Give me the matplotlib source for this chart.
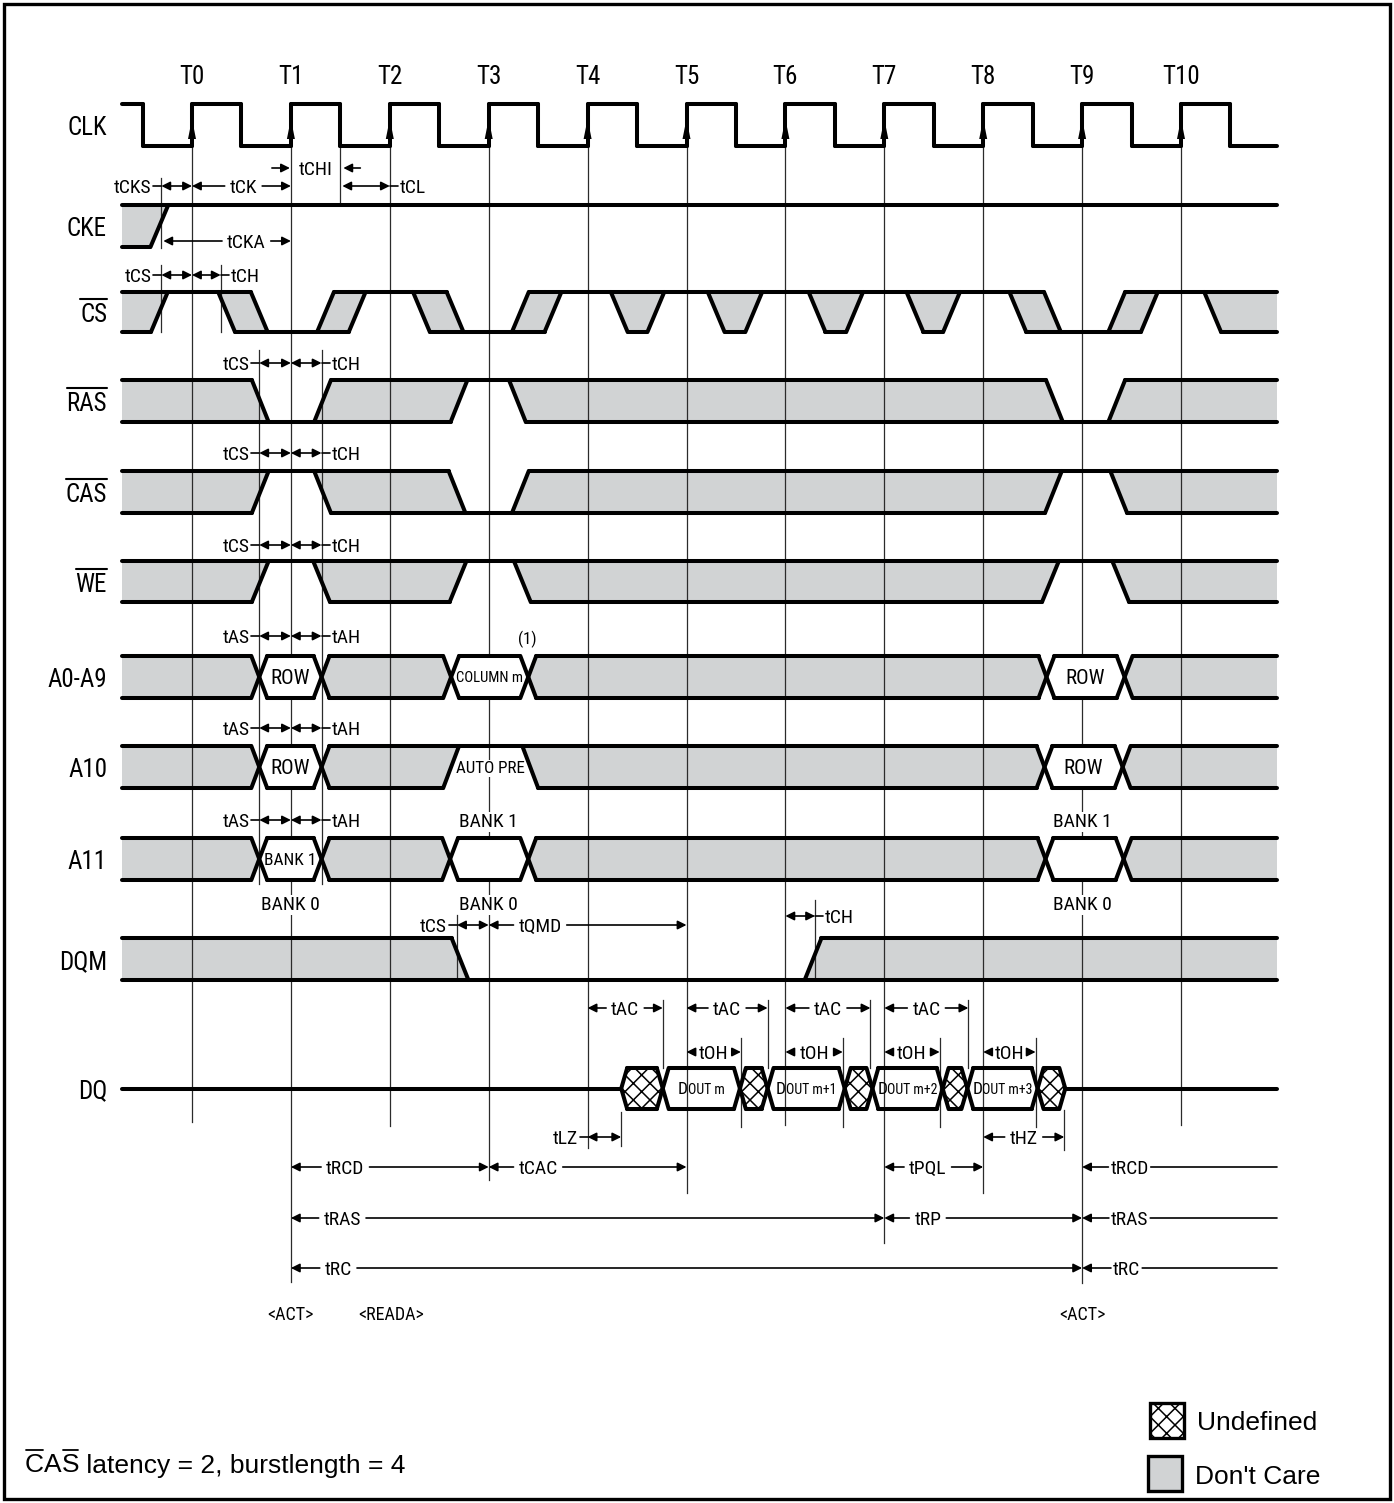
import os
import matplotlib
matplotlib.use('Agg')
import matplotlib.pyplot as plt
from matplotlib import font_manager as fm
from matplotlib.patches import Polygon, Rectangle

plt.rcParams['hatch.linewidth'] = 1.1

REGULAR = ['Liberation Sans', 'DejaVu Sans']
GRAY = '#d1d3d4'


def pick_narrow():
    # the diagram uses a condensed sans; take whatever narrow face is installed
    files = sorted(set(f.fname for f in fm.fontManager.ttflist))
    prefs = ['liberationsansnarrow-regular', 'robotocondensed-regular',
             'notosans-condensed.', 'notosans-extracondensed.',
             'notosans-semicondensed.', 'dejavusanscondensed.',
             'opensans-condensedregular', 'opensans_condensed-regular']
    for p in prefs:
        for f in files:
            if p in os.path.basename(f).lower():
                return f
    bad = ('bold', 'italic', 'light', 'thin', 'black', 'medium', 'oblique', 'mono')
    for f in files:
        b = os.path.basename(f).lower()
        if ('condensed' in b or 'narrow' in b) and not any(k in b for k in bad):
            return f
    return None


NARROW_FILE = pick_narrow()
NSCALE = 1.0 if NARROW_FILE else 0.8

# ---------------------------------------------------------------- data
# times are in clock periods after the T0 rising edge
T_LABELS = ['T0', 'T1', 'T2', 'T3', 'T4', 'T5', 'T6', 'T7', 'T8', 'T9', 'T10']
T_POS = [0, 1, 2, 3, 4, 5, 6, 7, 8, 9, 10]

# states: H high, L low, X don't care, V valid, U undefined, Z high-z
CLK_STATES = ['H', 'L'] * 12
CLK_EDGES = [-0.5, 0, 0.5, 1, 1.5, 2, 2.5, 3, 3.5, 4, 4.5, 5, 5.5,
             6, 6.5, 7, 7.5, 8, 8.5, 9, 9.5, 10, 10.5]

CKE_STATES = ['X', 'H']
CKE_EDGES = [-0.33]

CS_STATES = ['X', 'H', 'X', 'L', 'X', 'H', 'X', 'L', 'X', 'H', 'X', 'H',
             'X', 'H', 'X', 'H', 'X', 'H', 'X', 'L', 'X', 'H', 'X']
CS_EDGES = [-0.33, 0.35, 0.68, 1.35, 1.67, 2.32, 2.66, 3.32, 3.65, 4.32,
            4.69, 5.30, 5.68, 6.32, 6.70, 7.31, 7.68, 8.35, 8.70, 9.35,
            9.68, 10.32]

RAS_STATES = ['X', 'L', 'X', 'H', 'X', 'L', 'X']
RAS_EDGES = [0.69, 1.32, 2.70, 3.29, 8.72, 9.35]

CAS_STATES = ['X', 'H', 'X', 'L', 'X', 'H', 'X']
CAS_EDGES = [0.69, 1.32, 2.68, 3.32, 8.71, 9.37]

WE_STATES = ['X', 'H', 'X', 'H', 'X', 'H', 'X']
WE_EDGES = [0.69, 1.31, 2.69, 3.34, 8.68, 9.39]

A09_STATES = ['X', 'V', 'X', 'V', 'X', 'V', 'X']
A09_EDGES = [0.68, 1.31, 2.62, 3.40, 8.64, 9.43]
A09_LABELS = ['', 'ROW', '', 'COLUMN m', '', 'ROW', '']

A10_STATES = ['X', 'V', 'X', 'H', 'X', 'V', 'X']
A10_EDGES = [0.68, 1.31, 2.62, 3.42, 8.62, 9.41]
A10_LABELS = ['', 'ROW', '', 'AUTO PRE', '', 'ROW', '']

A11_STATES = ['X', 'V', 'X', 'V', 'X', 'V', 'X']
A11_EDGES = [0.68, 1.31, 2.61, 3.40, 8.63, 9.42]
A11_LABELS = ['', 'BANK 1', '', '', '', '', '']

DQM_STATES = ['X', 'L', 'X']
DQM_EDGES = [2.71, 6.28]

DQ_STATES = ['Z', 'U', 'V', 'U', 'V', 'U', 'V', 'U', 'V', 'U', 'Z']
DQ_EDGES = [4.34, 4.76, 5.54, 5.82, 6.60, 6.88, 7.59, 7.84, 8.55, 8.83]
DQ_LABELS = ['', '', 'm', '', 'm+1', '', 'm+2', '', 'm+3', '', '']

# extra bank / note labels: text, time, row, where
NOTES = [('BANK 0', 1, 'A11', 'below'), ('BANK 1', 3, 'A11', 'above'),
         ('BANK 0', 3, 'A11', 'below'), ('BANK 1', 9, 'A11', 'above'),
         ('BANK 0', 9, 'A11', 'below'), ('(1)', 3.39, 'A0-A9', 'above')]

# timing spans: label, from, to, label at, lane
SPANS = [('tCK', 0, 1, 0.52, 'ck'), ('tCKA', -0.29, 1, 0.55, 'cka'),
         ('tQMD', 3, 5, 3.52, 'qmd'),
         ('tAC', 4, 4.76, None, 'ac'), ('tAC', 5, 5.82, None, 'ac'),
         ('tAC', 6, 6.86, None, 'ac'), ('tAC', 7, 7.85, None, 'ac'),
         ('tOH', 5, 5.55, None, 'oh'), ('tOH', 6, 6.58, None, 'oh'),
         ('tOH', 7, 7.56, None, 'oh'), ('tOH', 8, 8.53, None, 'oh'),
         ('tHZ', 8, 8.82, None, 'lz'),
         ('tRCD', 1, 3, 1.55, 'rcd'), ('tCAC', 3, 5, 3.50, 'rcd'),
         ('tPQL', 7, 8, 7.44, 'rcd'),
         ('tRAS', 1, 7, 1.52, 'ras2'), ('tRP', 7, 9, 7.44, 'ras2'),
         ('tRC', 1, 9, 1.48, 'rc')]
# spans that run on to the right edge: label, from, label at, lane
OPEN_SPANS = [('tRCD', 9, 9.48, 'rcd'), ('tRAS', 9, 9.48, 'ras2'),
              ('tRC', 9, 9.45, 'rc')]
# setup/hold pairs: setup label, setup tick, clock, hold tick, hold label, lane
PAIRS = [('tCS', -0.31, 0, 0.29, 'tCH', 'cs'),
         ('tCS', 0.68, 1, 1.31, 'tCH', 'ras'),
         ('tCS', 0.68, 1, 1.31, 'tCH', 'cas'),
         ('tCS', 0.68, 1, 1.31, 'tCH', 'we'),
         ('tAS', 0.68, 1, 1.31, 'tAH', 'a09'),
         ('tAS', 0.68, 1, 1.31, 'tAH', 'a10'),
         ('tAS', 0.68, 1, 1.31, 'tAH', 'a11')]
# single double arrows: label, from, to, label side, lane
SINGLES = [('tCKS', -0.31, 0, 'left', 'ck'), ('tCL', 1.52, 2, 'right', 'ck'),
           ('tCS', 2.68, 3, 'left', 'qmd'), ('tCH', 6, 6.30, 'right', 'qch'),
           ('tLZ', 4, 4.34, 'left', 'lz')]
CHI = ('tCHI', 1, 1.52, 1.25)
CMDS = [('<ACT>', 1), ('<READA>', 2.01), ('<ACT>', 9)]

# ---------------------------------------------------------------- layout
W, H = 1394, 1503
P_PX = 98.9
T0_PX = 192
PX = 1 / P_PX


def tx(px):
    return (px - T0_PX) / P_PX


T_START, T_END = tx(122), tx(1277)
ROWS = {'CLK': (104, 146), 'CKE': (205, 247), 'CS': (292, 332),
        'RAS': (380, 422), 'CAS': (471, 513), 'WE': (561, 602),
        'A0-A9': (656, 698), 'A10': (746, 788), 'A11': (838, 880),
        'DQM': (938, 980), 'DQ': (1068, 1109)}
LANE_Y = {'chi': 168, 'ck': 186, 'cka': 241, 'cs': 275, 'ras': 363,
          'cas': 453, 'we': 545, 'a09': 636, 'a10': 728, 'a11': 820,
          'qmd': 925, 'qch': 916, 'ac': 1008, 'oh': 1052, 'lz': 1137,
          'rcd': 1167, 'ras2': 1218, 'rc': 1268, 'cmd': 1313}
T_LINE_END = [1122, 1282, 1126, 1180, 1148, 1193, 1125, 1243, 1193, 1283, 1125]
TICKS = [(-0.31, 178, 248), (-0.31, 265, 332), (0.29, 265, 332),
         (1.5, 146, 205), (0.68, 350, 884), (1.31, 350, 884),
         (2.68, 915, 980), (6.30, 900, 978),
         (4.76, 1000, 1068), (5.82, 1000, 1068), (6.86, 1000, 1068),
         (7.85, 1000, 1068),
         (5.55, 1038, 1127), (6.58, 1038, 1127), (7.56, 1038, 1127),
         (8.53, 1038, 1127), (4.34, 1112, 1146), (8.82, 1110, 1150)]

LW = 2.9
BUS = ('X', 'V', 'U')

fig = plt.figure(figsize=(W / 100, H / 100), dpi=100)
ax = fig.add_axes([0, 0, 1, 1])
ax.set_xlim(tx(0), tx(W))
ax.set_ylim(H, 0)
ax.axis('off')
R = fig.canvas.get_renderer()


def ext(txt):
    bb = txt.get_window_extent(renderer=R)
    (x0, y0), (x1, y1) = ax.transData.inverted().transform(
        [(bb.x0, bb.y0), (bb.x1, bb.y1)])
    return min(x0, x1), max(x0, x1), min(y0, y1), max(y0, y1)


def put(t, y, s, size=14, ha='center', narrow=True, bg=False, base=None,
        fit=None):
    if narrow:
        size = size * NSCALE
    yb = y + size * 0.5 if base is None else base
    if narrow and NARROW_FILE:
        kw = dict(fontproperties=fm.FontProperties(fname=NARROW_FILE, size=size))
    elif narrow:
        kw = dict(fontsize=size, family=['DejaVu Sans'])
    else:
        kw = dict(fontsize=size, family=REGULAR)
    txt = ax.text(t, yb, s, ha=ha, va='baseline', zorder=6, **kw)
    if fit is not None:
        x0, x1, _, _ = ext(txt)
        if x1 - x0 > fit:
            size = size * fit / (x1 - x0)
            txt.set_fontsize(size)
            txt.set_y(y + size * 0.5)
    if bg:
        # white patch under the text that hides the clock lines only
        x0, x1, y0, y1 = ext(txt)
        ax.add_patch(Rectangle((x0 - 2 * PX, y0 - 1), x1 - x0 + 4 * PX,
                               y1 - y0 + 2, fc='white', ec='none', zorder=3))
    return txt


def line(xs, ys, lw=LW, z=4):
    ax.plot(xs, ys, color='k', lw=lw, solid_capstyle='round', zorder=z)


def thin(xs, ys, z=3.5):
    ax.plot(xs, ys, color='#2b2b2b', lw=0.9, zorder=z)


ARW = dict(color='k', lw=1.2, shrinkA=0, shrinkB=0, mutation_scale=13)


def arrow(t_from, t_to, y, head=True):
    ax.annotate('', xy=(t_to, y), xytext=(t_from, y), zorder=5,
                arrowprops=dict(arrowstyle='-|>' if head else '-', **ARW))


def dbl(t1, t2, y):
    ax.annotate('', xy=(t2, y), xytext=(t1, y), zorder=5,
                arrowprops=dict(arrowstyle='<|-|>', **ARW))


def lv(s, top, bot):
    return {'H': [top], 'L': [bot], 'Z': [(top + bot) / 2]}.get(s, [top, bot])


def dout(t, y, suffix):
    base = y + 6
    a = put(t, y, 'D', size=12.5, ha='left', base=base)
    b = put(t, y, 'OUT ' + suffix, size=10, ha='left', base=base)
    a0, a1, _, _ = ext(a)
    b0, b1, _, _ = ext(b)
    start = t - (a1 - a0 + b1 - b0) / 2
    a.set_x(start)
    b.set_x(start + (a1 - a0))


def draw_signal(states, edges, row, h, labels=None, cover=True):
    top, bot = ROWS[row]
    mid = (top + bot) / 2
    trans = []
    for i, c in enumerate(edges):
        a, b = states[i], states[i + 1]
        xl = c if a == 'Z' else c - h
        xr = c if b == 'Z' else c + h
        trans.append((xl, c, xr))
        if a in BUS and b in BUS:
            segs = [((xl, top), (xr, bot)), ((xl, bot), (xr, top))]
        else:
            segs = [((xl, la), (xr, lb)) for la in lv(a, top, bot)
                    for lb in lv(b, top, bot)]
        for p, q in segs:
            line([p[0], q[0]], [p[1], q[1]])
    n = len(states)
    for i, s in enumerate(states):
        xa = T_START if i == 0 else trans[i - 1][2]
        xb = T_END if i == n - 1 else trans[i][0]
        for y in lv(s, top, bot):
            line([xa, xb], [y, y])
        if s in BUS:
            if i == 0:
                left = [(T_START, bot), (T_START, top)]
            else:
                xl, c, xr = trans[i - 1]
                p = states[i - 1]
                if p == 'H':
                    left = [(xr, bot), (xl, top)]
                elif p == 'L':
                    left = [(xl, bot), (xr, top)]
                elif p == 'Z':
                    left = [(xr, bot), (xl, mid), (xr, top)]
                else:
                    left = [(xr, bot), (c, mid), (xr, top)]
            if i == n - 1:
                right = [(T_END, top), (T_END, bot)]
            else:
                xl, c, xr = trans[i]
                q = states[i + 1]
                if q == 'H':
                    right = [(xr, top), (xl, bot)]
                elif q == 'L':
                    right = [(xl, top), (xr, bot)]
                elif q == 'Z':
                    right = [(xl, top), (xr, mid), (xl, bot)]
                else:
                    right = [(xl, top), (c, mid), (xl, bot)]
            pts = left + right
            if s == 'X':
                ax.add_patch(Polygon(pts, closed=True, fc=GRAY, ec='none', zorder=1))
            elif s == 'V':
                ax.add_patch(Polygon(pts, closed=True, fc='white', ec='none',
                                     zorder=3 if cover else 1.5))
            else:
                ax.add_patch(Polygon(pts, closed=True, fc='white', ec='k',
                                     lw=0, hatch='xx', zorder=1.5))
        if labels and labels[i]:
            tc = (xa + xb) / 2
            if row == 'DQ':
                dout(tc, mid, labels[i])
            else:
                room = xb - xa + h - 2 * PX
                put(tc, mid, labels[i], size=15, bg=(s == 'H'), fit=room)


# ---------------------------------------------------------------- clock
top, bot = ROWS['CLK']
draw_signal(CLK_STATES, CLK_EDGES, 'CLK', 0)
for lab, t, yend in zip(T_LABELS, T_POS, T_LINE_END):
    put(t, 75, lab, size=18)
    thin([t, t], [bot, yend], z=2)
    ax.add_patch(Polygon([(t - 4 * PX, 139), (t + 4 * PX, 139), (t, 119)],
                         closed=True, fc='k', ec='none', zorder=5))

# ---------------------------------------------------------------- signals
draw_signal(CKE_STATES, CKE_EDGES, 'CKE', 0.09)
draw_signal(CS_STATES, CS_EDGES, 'CS', 0.085)
draw_signal(RAS_STATES, RAS_EDGES, 'RAS', 0.085)
draw_signal(CAS_STATES, CAS_EDGES, 'CAS', 0.085)
draw_signal(WE_STATES, WE_EDGES, 'WE', 0.085)
draw_signal(A09_STATES, A09_EDGES, 'A0-A9', 0.08, A09_LABELS)
draw_signal(A10_STATES, A10_EDGES, 'A10', 0.08, A10_LABELS)
draw_signal(A11_STATES, A11_EDGES, 'A11', 0.08, A11_LABELS)
draw_signal(DQM_STATES, DQM_EDGES, 'DQM', 0.085)
draw_signal(DQ_STATES, DQ_EDGES, 'DQ', 0.06, DQ_LABELS, cover=False)

for name, bar in [('CLK', False), ('CKE', False), ('CS', True), ('RAS', True),
                  ('CAS', True), ('WE', True), ('A0-A9', False), ('A10', False),
                  ('A11', False), ('DQM', False), ('DQ', False)]:
    t0, b0 = ROWS[name]
    txt = put(tx(107), (t0 + b0) / 2 + 1, name, size=18, ha='right')
    if bar:
        x0, x1, ytop, _ = ext(txt)
        line([x0, x1], [ytop - 4, ytop - 4], lw=1.5)

for s, t, row, where in NOTES:
    t0, b0 = ROWS[row]
    y = t0 - 18 if where == 'above' else b0 + 23
    put(t, y, s, size=12 if s.startswith('(') else 14, bg=True)

# ---------------------------------------------------------------- timing marks
for t, y0, y1 in TICKS:
    thin([t, t], [y0, y1])

for lab, t1, t2, tt, lane in SPANS:
    y = LANE_Y[lane]
    tt = (t1 + t2) / 2 if tt is None else tt
    x0, x1, _, _ = ext(put(tt, y, lab))
    arrow(x0 - 5 * PX, t1, y)
    arrow(x1 + 5 * PX, t2, y)

for lab, t1, tt, lane in OPEN_SPANS:
    y = LANE_Y[lane]
    x0, x1, _, _ = ext(put(tt, y, lab))
    arrow(x0 - 2 * PX, t1, y)
    arrow(x1 + 2 * PX, T_END, y, head=False)


def side_label(lab, t, y, side):
    if side == 'left':
        line([t - 8 * PX, t], [y, y], lw=1.2, z=5)
        put(t - 10 * PX, y, lab, ha='right')
    else:
        line([t, t + 8 * PX], [y, y], lw=1.2, z=5)
        put(t + 10 * PX, y, lab, ha='left')


for la, ta, tc, tb, lb, lane in PAIRS:
    y = LANE_Y[lane]
    dbl(ta, tc, y)
    dbl(tc, tb, y)
    side_label(la, ta, y, 'left')
    side_label(lb, tb, y, 'right')

for lab, t1, t2, side, lane in SINGLES:
    y = LANE_Y[lane]
    dbl(t1, t2, y)
    side_label(lab, t1 if side == 'left' else t2, y, side)

lab, ta, tb, tt = CHI
y = LANE_Y['chi']
put(tt, y, lab)
arrow(ta - 19 * PX, ta - 1 * PX, y)
arrow(tb + 18 * PX, tb + 1 * PX, y)

for lab, t in CMDS:
    put(t, LANE_Y['cmd'], lab, size=13)

# ---------------------------------------------------------------- legend / notes
ax.add_patch(Rectangle((tx(1150), 1403), 34 * PX, 35, fc='white', ec='k',
                       lw=2.4, hatch='xx', zorder=3))
ax.add_patch(Rectangle((tx(1148), 1456), 34 * PX, 35, fc=GRAY, ec='k',
                       lw=2.4, zorder=3))
put(tx(1197), 1420, 'Undefined', size=19, ha='left', narrow=False)
put(tx(1195), 1474, "Don't Care", size=19, ha='left', narrow=False)

x = tx(25)
for piece, bar in [('C', True), ('A', False), ('S', True),
                   (' latency = 2, burstlength = 4', False)]:
    txt = put(x, 1463, piece, size=19, ha='left', narrow=False)
    x0, x1, ytop, _ = ext(txt)
    if bar:
        line([x0 + 1 * PX, x1 - 1 * PX], [ytop - 4, ytop - 4], lw=1.3)
    x = x1

ax.add_patch(Rectangle((tx(4), 4), tx(1390) - tx(4), 1495, fc='none',
                       ec='k', lw=2.4, zorder=6))

fig.savefig('out.png', dpi=100)
